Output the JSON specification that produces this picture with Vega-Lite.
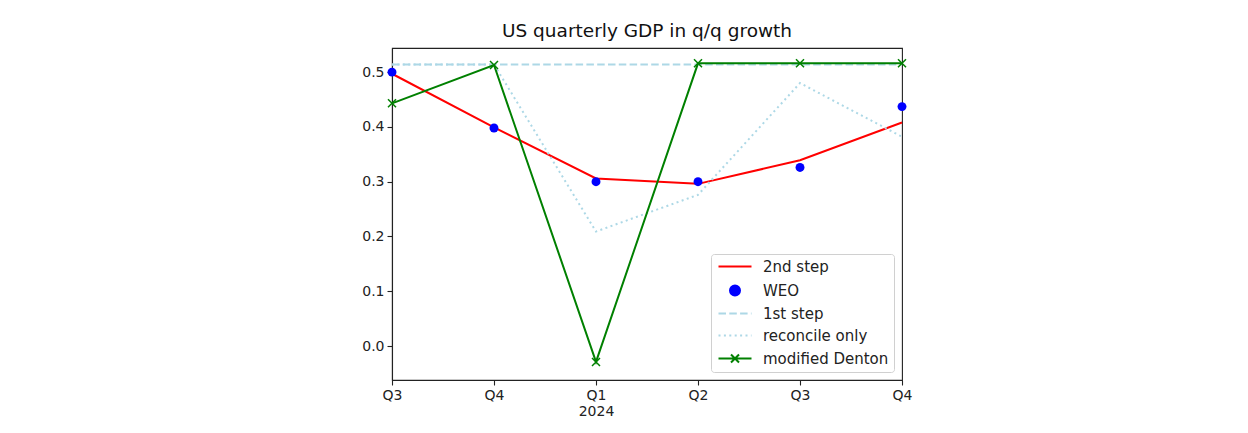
{
  "$schema": "https://vega.github.io/schema/vega-lite/v6.json",
  "width": 510,
  "height": 332,
  "autosize": {"type": "none"},
  "padding": {"left": 392, "top": 48, "right": 346, "bottom": 53},
  "background": "white",
  "config": {
    "font": "DejaVu Sans",
    "view": {"stroke": "#222", "strokeWidth": 1.1},
    "axis": {
      "grid": false,
      "domainColor": "#222",
      "domainWidth": 1.1,
      "tickColor": "#222",
      "tickWidth": 1.1,
      "labelColor": "#222",
      "labelFontSize": 14,
      "tickSize": 5,
      "title": null
    }
  },
  "title": {
    "text": "US quarterly GDP in q/q growth",
    "fontSize": 18.5,
    "fontWeight": "normal",
    "color": "#111",
    "offset": 8
  },
  "data": {
    "values": [
      {"q": "2023Q3", "series": "2nd step", "v": 0.497},
      {"q": "2023Q4", "series": "2nd step", "v": 0.399},
      {"q": "2024Q1", "series": "2nd step", "v": 0.306},
      {"q": "2024Q2", "series": "2nd step", "v": 0.296},
      {"q": "2024Q3", "series": "2nd step", "v": 0.339},
      {"q": "2024Q4", "series": "2nd step", "v": 0.408},
      {"q": "2023Q3", "series": "WEO", "v": 0.5},
      {"q": "2023Q4", "series": "WEO", "v": 0.398},
      {"q": "2024Q1", "series": "WEO", "v": 0.3},
      {"q": "2024Q2", "series": "WEO", "v": 0.3},
      {"q": "2024Q3", "series": "WEO", "v": 0.326},
      {"q": "2024Q4", "series": "WEO", "v": 0.437},
      {"q": "2023Q3", "series": "1st step", "v": 0.514},
      {"q": "2023Q4", "series": "1st step", "v": 0.514},
      {"q": "2024Q1", "series": "1st step", "v": 0.514},
      {"q": "2024Q2", "series": "1st step", "v": 0.514},
      {"q": "2024Q3", "series": "1st step", "v": 0.514},
      {"q": "2024Q4", "series": "1st step", "v": 0.514},
      {"q": "2023Q3", "series": "reconcile only", "v": 0.514},
      {"q": "2023Q4", "series": "reconcile only", "v": 0.514},
      {"q": "2024Q1", "series": "reconcile only", "v": 0.209},
      {"q": "2024Q2", "series": "reconcile only", "v": 0.276},
      {"q": "2024Q3", "series": "reconcile only", "v": 0.48},
      {"q": "2024Q4", "series": "reconcile only", "v": 0.382},
      {"q": "2023Q3", "series": "modified Denton", "v": 0.443},
      {"q": "2023Q4", "series": "modified Denton", "v": 0.513},
      {"q": "2024Q1", "series": "modified Denton", "v": -0.029},
      {"q": "2024Q2", "series": "modified Denton", "v": 0.516},
      {"q": "2024Q3", "series": "modified Denton", "v": 0.516},
      {"q": "2024Q4", "series": "modified Denton", "v": 0.516}
    ]
  },
  "encoding": {
    "x": {
      "field": "q",
      "type": "ordinal",
      "scale": {"type": "point", "padding": 0},
      "axis": {
        "labelAngle": 0,
        "labelPadding": 3,
        "labelLineHeight": 16,
        "labelExpr": "datum.value === '2024Q1' ? ['Q1', '2024'] : substring(datum.value, 4)"
      }
    },
    "y": {
      "field": "v",
      "type": "quantitative",
      "scale": {"domain": [-0.062, 0.544], "nice": false, "zero": false},
      "axis": {"values": [0, 0.1, 0.2, 0.3, 0.4, 0.5], "format": ".1f", "labelPadding": 3}
    },
    "color": {
      "field": "series",
      "type": "nominal",
      "scale": {
        "domain": ["2nd step", "WEO", "1st step", "reconcile only", "modified Denton"],
        "range": ["#ff0000", "#0000ff", "#add8e6", "#add8e6", "#008000"]
      },
      "legend": {
        "title": null,
        "orient": "bottom-right",
        "offset": 8,
        "labelFontSize": 15,
        "labelColor": "#222",
        "labelOffset": 32,
        "rowPadding": 6,
        "symbolSize": 100,
        "symbolStrokeWidth": 2,
        "padding": 5,
        "strokeColor": "#d0d0d0",
        "fillColor": "rgba(255,255,255,0.85)",
        "cornerRadius": 3,
        "encode": {
          "symbols": {
            "update": {
              "shape": {"signal": "datum.value === 'WEO' ? 'M1.3,0A1,1 0 1,0 3.3,0A1,1 0 1,0 1.3,0Z' : datum.value === 'modified Denton' ? 'M-1,0H5.6M1.5,-0.8L3.1,0.8M1.5,0.8L3.1,-0.8' : 'M-1,0H5.6'"},
              "size": {"value": 100},
              "fill": {"signal": "datum.value === 'WEO' ? '#0000ff' : 'transparent'"},
              "stroke": {"signal": "datum.value === '2nd step' ? '#ff0000' : datum.value === 'WEO' ? 'transparent' : datum.value === 'modified Denton' ? '#008000' : '#add8e6'"},
              "strokeDash": {"signal": "datum.value === '1st step' ? [7.5, 3.3] : datum.value === 'reconcile only' ? [2, 3.4] : []"},
              "strokeWidth": {"value": 2},
              "opacity": {"value": 1}
            }
          }
        }
      }
    }
  },
  "layer": [
    {
      "transform": [{"filter": "datum.series === '2nd step'"}],
      "mark": {"type": "line", "strokeWidth": 2}
    },
    {
      "transform": [{"filter": "datum.series === 'WEO'"}],
      "mark": {"type": "point", "shape": "circle", "filled": true, "size": 80, "opacity": 1}
    },
    {
      "transform": [{"filter": "datum.series === '1st step'"}],
      "mark": {"type": "line", "strokeWidth": 2, "strokeDash": [7.5, 3.3]}
    },
    {
      "transform": [{"filter": "datum.series === 'reconcile only'"}],
      "mark": {"type": "line", "strokeWidth": 2, "strokeDash": [2, 3.4]}
    },
    {
      "transform": [{"filter": "datum.series === 'modified Denton'"}],
      "mark": {"type": "line", "strokeWidth": 2}
    },
    {
      "transform": [{"filter": "datum.series === 'modified Denton'"}],
      "mark": {"type": "point", "shape": "M-1,-1L1,1M-1,1L1,-1", "filled": false, "size": 64, "strokeWidth": 1.5, "opacity": 1}
    }
  ]
}
